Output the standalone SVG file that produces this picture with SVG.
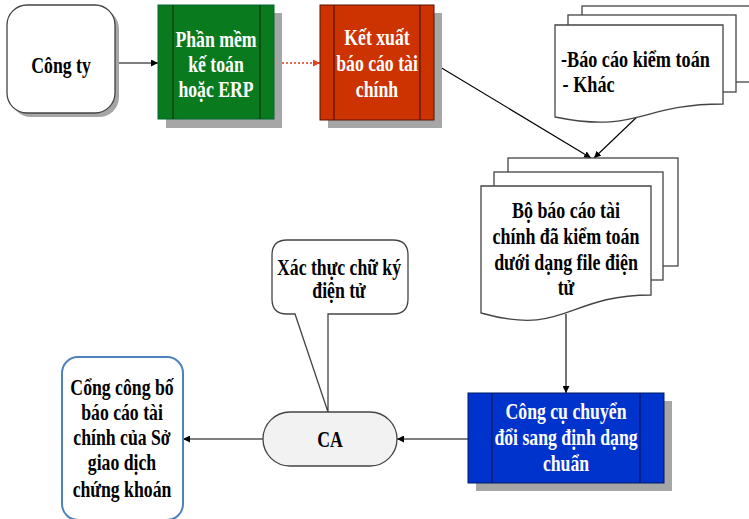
<svg xmlns="http://www.w3.org/2000/svg" width="749" height="519" viewBox="0 0 749 519">
<defs>
<marker id="ah" viewBox="0 0 10 10" refX="10" refY="5" markerWidth="7" markerHeight="7" markerUnits="userSpaceOnUse" orient="auto"><path d="M0,0 L10,5 L0,10 Z" fill="#000"/></marker>
<marker id="ahr" viewBox="0 0 10 10" refX="10" refY="5" markerWidth="7" markerHeight="7" markerUnits="userSpaceOnUse" orient="auto"><path d="M0,0 L10,5 L0,10 Z" fill="#e0401a"/></marker>
</defs>
<style>
text{font-family:"Liberation Serif","Times New Roman",serif;font-weight:bold;font-size:23px;text-anchor:middle}
.w{fill:#fff}
.k{fill:#000}
.sh{fill:#a6a6a6}
.pg{fill:#fff;stroke:#444;stroke-width:1.3}
.ln{fill:none;stroke:#000;stroke-width:1.1}
</style>
<rect width="749" height="519" fill="#fff"/>

<g id="connectors">
<line class="ln" x1="116" y1="63" x2="158" y2="63" marker-end="url(#ah)"/>
<line x1="274" y1="63" x2="320" y2="63" stroke="#e0401a" stroke-width="1.5" stroke-dasharray="2,2" marker-end="url(#ahr)"/>
<line class="ln" x1="435" y1="64" x2="591" y2="158" marker-end="url(#ah)"/>
<line class="ln" x1="639" y1="115" x2="594" y2="158" marker-end="url(#ah)"/>
<line class="ln" x1="566" y1="314" x2="566" y2="393" marker-end="url(#ah)"/>
<line class="ln" x1="468" y1="439" x2="397" y2="439" marker-end="url(#ah)"/>
<line class="ln" x1="263" y1="439" x2="183" y2="439" marker-end="url(#ah)"/>
</g>

<g id="cong-ty">
<rect class="sh" x="11" y="9" width="108" height="108" rx="20"/>
<rect x="7" y="5" width="108" height="108" rx="20" fill="#fff" stroke="#444" stroke-width="1.3"/>
<g transform="translate(61,0) scale(0.77,1)"><text class="k" x="0" y="73">Công ty</text></g>
</g>

<g id="phan-mem">
<rect class="sh" x="166" y="13" width="116" height="115"/>
<rect x="158" y="5" width="116" height="114" fill="#0a7a1e" stroke="#063" stroke-width="1"/>
<line x1="173" y1="5" x2="173" y2="119" stroke="#033d0c" stroke-width="1.3"/>
<line x1="260" y1="5" x2="260" y2="119" stroke="#033d0c" stroke-width="1.3"/>
<g transform="translate(216,0) scale(0.77,1)"><text class="w" x="0" y="47">Phần mềm</text><text class="w" x="0" y="72">kế toán</text><text class="w" x="0" y="97">hoặc ERP</text></g>
</g>

<g id="ket-xuat">
<rect class="sh" x="328" y="13" width="114" height="115"/>
<rect x="320" y="5" width="114" height="115" fill="#cc3300" stroke="#5a1500" stroke-width="1"/>
<line x1="334" y1="5" x2="334" y2="120" stroke="#5a1500" stroke-width="1.3"/>
<line x1="420" y1="5" x2="420" y2="120" stroke="#5a1500" stroke-width="1.3"/>
<g transform="translate(377,0) scale(0.77,1)"><text class="w" x="0" y="45">Kết xuất</text><text class="w" x="0" y="71">báo cáo tài</text><text class="w" x="0" y="97">chính</text></g>
</g>

<g id="bao-cao-kiem-toan">
<rect class="pg" x="582" y="6" width="172" height="76"/>
<rect class="pg" x="568" y="15" width="168" height="77"/>
<path class="pg" d="M555,25 H723 V104 C639,104 639,134 555,117 Z"/>
<g transform="translate(561,0) scale(0.79,1)"><text class="k" x="0" y="67" style="text-anchor:start">-Báo cáo kiểm toán</text><text class="k" x="2" y="92" style="text-anchor:start">- Khác</text></g>
</g>

<g id="bo-bao-cao">
<rect class="pg" x="508" y="158" width="170" height="108"/>
<rect class="pg" x="494" y="172" width="169" height="108"/>
<path class="pg" d="M481,186 H651 V295 C566,295 566,337 481,313 Z"/>
<g transform="translate(566,0) scale(0.78,1)"><text class="k" x="0" y="218">Bộ báo cáo tài</text><text class="k" x="0" y="244">chính đã kiểm toán</text><text class="k" x="0" y="270">dưới dạng file điện</text><text class="k" x="0" y="295">tử</text></g>
</g>

<g id="cong-cu">
<rect class="sh" x="476" y="401" width="196" height="90"/>
<rect x="468" y="393" width="196" height="90" fill="#0033cc" stroke="#001a66" stroke-width="1"/>
<line x1="492" y1="393" x2="492" y2="483" stroke="#001a66" stroke-width="1.3"/>
<line x1="640" y1="393" x2="640" y2="483" stroke="#001a66" stroke-width="1.3"/>
<g transform="translate(566,0) scale(0.77,1)"><text class="w" x="0" y="419">Công cụ chuyển</text><text class="w" x="0" y="445">đổi sang định dạng</text><text class="w" x="0" y="471">chuẩn</text></g>
</g>

<g id="xac-thuc">
<path class="pg" d="M287,240 H393 Q408,240 408,255 V299 Q408,314 393,314 H328 V412 L295,314 H287 Q272,314 272,299 V255 Q272,240 287,240 Z"/>
<g transform="translate(339,0) scale(0.77,1)"><text class="k" x="0" y="275">Xác thực chữ ký</text><text class="k" x="0" y="298">điện tử</text></g>
</g>

<g id="ca">
<rect x="263" y="412" width="134" height="54" rx="27" fill="#f2f2f2" stroke="#444" stroke-width="1.3"/>
<g transform="translate(330,0) scale(0.77,1)"><text class="k" x="0" y="447">CA</text></g>
</g>

<g id="cong-cong-bo">
<rect x="62" y="357" width="121" height="163" rx="16" fill="#fff" stroke="#4f81bd" stroke-width="2"/>
<g transform="translate(122,0) scale(0.77,1)"><text class="k" x="0" y="395">Cổng công bố</text><text class="k" x="0" y="420">báo cáo tài</text><text class="k" x="0" y="445">chính của Sở</text><text class="k" x="0" y="470">giao dịch</text><text class="k" x="0" y="497">chứng khoán</text></g>
</g>
</svg>
